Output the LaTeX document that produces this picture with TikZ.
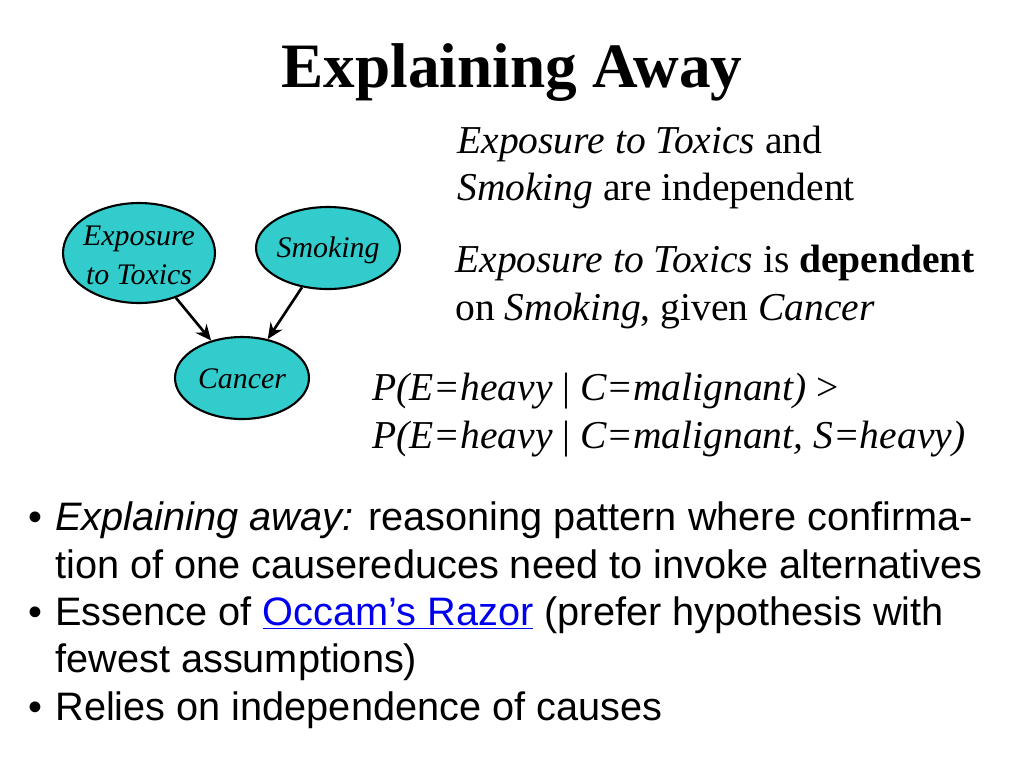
\documentclass[tikz,border=0pt]{standalone}
\usepackage{fontspec}
\setmainfont{Liberation Serif}
\setsansfont{Liberation Sans}
\usetikzlibrary{shapes.geometric,arrows.meta}
\definecolor{nodecyan}{HTML}{33CCCC}
\definecolor{linkblue}{HTML}{0000EE}
\tikzset{
  varnode/.style={ellipse, draw, line width=1.2pt, fill=nodecyan, inner sep=0pt},
  varlabel/.style={inner sep=0pt, font=\fontsize{17}{20}\selectfont\itshape, align=center},
  causearrow/.style={-{Stealth[length=9pt,width=8pt]}, line width=1.5pt},
  serifline/.style={anchor=base west, inner sep=0pt, font=\fontsize{22.5}{26}\selectfont},
  bulletline/.style={anchor=base west, inner sep=0pt, font=\sffamily\fontsize{22.6}{26}\selectfont}
}
\begin{document}
\begin{tikzpicture}[x=0.02cm, y=-0.02cm]
  \useasboundingbox (0,0) rectangle (1024,768);

  % title
  \node[anchor=base, inner sep=0pt, font=\fontsize{36}{40}\selectfont\bfseries] (title) at (512,87) {Explaining Away};

  % network
  \node[varnode, minimum width=3.04cm, minimum height=2cm] (exposure) at (139,253) {};
  \node[varlabel, anchor=base] (exposurelabela) at (139,245) {Exposure};
  \node[varlabel, anchor=base] (exposurelabelb) at (139,284) {to Toxics};
  \node[varnode, minimum width=2.88cm, minimum height=1.64cm] (smoking) at (328,248) {};
  \node[varlabel, anchor=base] (smokinglabel) at (328,257) {Smoking};
  \node[varnode, minimum width=2.68cm, minimum height=1.64cm] (cancer) at (242,378) {};
  \node[varlabel, anchor=base] (cancerlabel) at (242,388) {Cancer};

  % arrows
  \draw[causearrow] (exposure) -- (cancer);
  \draw[causearrow] (smoking) -- (cancer);

  % statements
  \node[serifline] (indepa) at (457,153) {\textit{Exposure to Toxics} and};
  \node[serifline] (indepb) at (457,200) {\textit{Smoking} are independent};
  \node[serifline] (depa) at (455,272) {\textit{Exposure to Toxics} is \textbf{dependent}};
  \node[serifline] (depb) at (455,320) {on \textit{Smoking}, given \textit{Cancer}};
  \node[serifline] (proba) at (372,400) {\textit{P(E=heavy} | \textit{C=malignant)} >};
  \node[serifline] (probb) at (372,448) {\textit{P(E=heavy} | \textit{C=malignant, S=heavy)}};

  % bullets
  \node[bulletline] (bulleta) at (28,530) {•};
  \node[bulletline] (linea) at (55,530) {\textit{Explaining away:} reasoning pattern where confirma-};
  \node[bulletline] (lineb) at (55,578) {tion of one causereduces need to invoke alternatives};
  \node[bulletline] (bulletb) at (28,625) {•};
  \node[bulletline] (linec) at (55,625) {Essence of \textcolor{linkblue}{\underline{Occam’s Razor}} (prefer hypothesis with};
  \node[bulletline] (lined) at (55,672) {fewest assumptions)};
  \node[bulletline] (bulletc) at (28,720) {•};
  \node[bulletline] (linee) at (55,720) {Relies on independence of causes};
\end{tikzpicture}
\end{document}
